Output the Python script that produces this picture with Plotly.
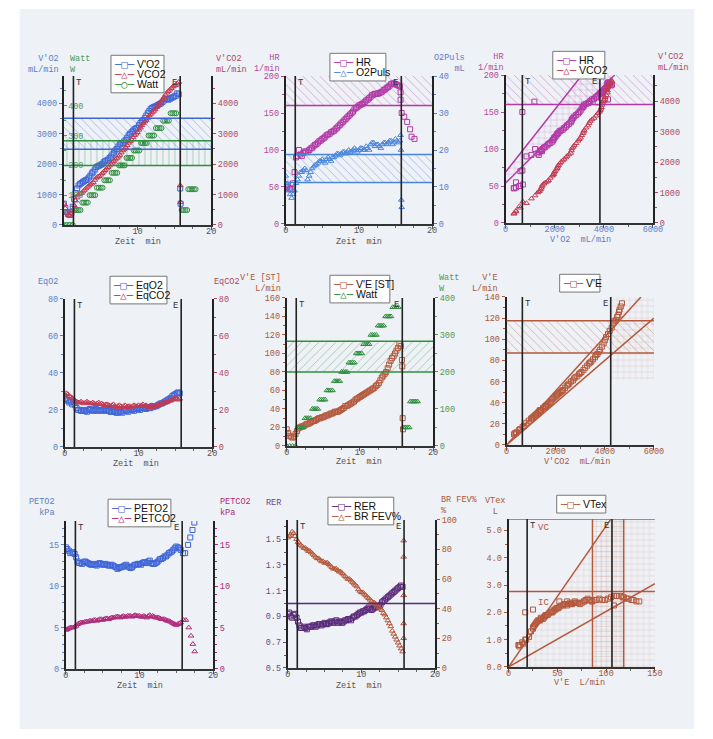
import plotly.graph_objects as go

# ---------------- data ----------------
t = [0.0, 0.4, 0.8, 1.2, 1.6, 2.0, 2.4, 2.8, 3.2, 3.6, 4.0, 4.4, 4.8, 5.2, 5.6, 6.0, 6.4, 6.8, 7.2, 7.6,
     8.0, 8.4, 8.8, 9.2, 9.6, 10.0, 10.4, 10.8, 11.2, 11.6, 12.0, 12.4, 12.8, 13.2, 13.6, 14.0, 14.4, 14.8, 15.2, 15.6]
vo2 = [700, 420, 330, 600, 1050, 1300, 1380, 1450, 1500, 1620, 1750, 1900, 1950, 2000, 2100, 2150, 2250, 2380, 2500, 2650,
       2700, 2800, 2950, 3050, 3150, 3200, 3350, 3450, 3600, 3750, 3850, 3900, 3950, 4000, 4100, 4150, 4150, 4200, 4250, 4300]
vco2 = [700, 400, 300, 500, 800, 1000, 1050, 1150, 1250, 1330, 1400, 1550, 1600, 1700, 1800, 1900, 2000, 2100, 2200, 2300,
        2450, 2550, 2700, 2800, 2950, 3050, 3200, 3350, 3450, 3600, 3700, 3800, 3950, 4050, 4200, 4350, 4450, 4550, 4600, 4700]
hr = [52, 48, 47, 70, 92, 94, 96, 98, 100, 103, 107, 110, 113, 116, 120, 122, 125, 128, 132, 136,
      140, 144, 148, 152, 157, 160, 162, 165, 168, 172, 175, 176, 177, 179, 182, 185, 189, 190, 188, 186]
o2puls = [13, 9, 7, 9, 12, 14, 14.5, 14.5, 13, 15, 16, 16.5, 17, 17, 17.5, 17.5, 18, 18.5, 19, 19,
          19.5, 19.5, 19.5, 20, 20, 20, 20.5, 20, 20.5, 21.5, 22, 21.5, 21, 21.5, 22, 22, 22.5, 22, 22.5, 22.5]
eqo2 = [26, 25, 24.5, 24, 21, 20, 19.5, 19.5, 20, 20, 20, 19.5, 20, 20, 19.5, 19.5, 19, 19, 18.5, 19,
        19.5, 19.5, 20, 20, 20.5, 20.5, 21, 21, 21.5, 21, 21.5, 22, 23, 23.5, 24.5, 25.5, 26.5, 28, 29, 29]
eqco2 = [28, 28.5, 27, 26, 24.5, 24, 24, 24, 24, 23.5, 23.5, 23.5, 23, 23, 23, 22.5, 22.5, 22, 22, 22,
         22, 21.5, 22, 22, 22, 22.5, 22.5, 22, 22, 22, 21.5, 22, 23, 23.5, 24, 24.5, 25, 26, 26, 26]
ve_st = [18, 11, 9, 13, 19, 21, 22, 24, 25, 27, 28, 30, 31, 32, 33, 35, 36, 37, 38, 40,
         43, 44, 46, 48, 51, 53, 55, 57, 59, 61, 63, 66, 71, 76, 80, 88, 95, 100, 106, 108]
ve_btps = [18, 12, 10, 14, 21, 25, 26, 28, 30, 32, 33, 36, 37, 39, 41, 44, 46, 48, 50, 52,
           56, 58, 61, 64, 67, 69, 73, 77, 79, 83, 86, 90, 96, 102, 108, 115, 118, 123, 128, 134]
vtex = [1.0, 0.8, 0.8, 0.9, 1.1, 1.4, 1.5, 1.6, 1.7, 1.7, 1.75, 1.8, 1.85, 1.9, 1.95, 2.0, 2.05, 2.1, 2.15, 2.2,
        2.25, 2.3, 2.3, 2.3, 2.35, 2.35, 2.3, 2.4, 2.45, 2.45, 2.4, 2.45, 2.45, 2.5, 2.6, 2.6, 2.55, 2.5, 2.45, 2.4]
peto2 = [14.7, 14.3, 14.1, 13.9, 13.0, 12.8, 12.9, 12.9, 12.7, 12.6, 12.6, 12.7, 12.7, 12.6, 12.6, 12.5, 12.5, 12.3, 12.2, 12.3,
         12.5, 12.4, 12.2, 12.5, 12.6, 12.7, 12.8, 12.9, 13.0, 12.8, 12.7, 12.9, 13.3, 13.4, 13.6, 14.0, 14.2, 14.6, 14.7, 14.4]
petco2 = [4.7, 4.9, 5.0, 5.1, 5.4, 5.6, 5.6, 5.7, 5.8, 5.8, 5.9, 5.9, 6.0, 6.0, 6.1, 6.1, 6.2, 6.3, 6.3, 6.3,
          6.3, 6.4, 6.4, 6.4, 6.4, 6.4, 6.3, 6.3, 6.4, 6.3, 6.3, 6.2, 6.1, 6.0, 5.9, 5.8, 5.6, 5.4, 5.4, 5.6]
rer = [0.92, 0.90, 0.91, 0.89, 0.83, 0.81, 0.81, 0.82, 0.82, 0.83, 0.83, 0.84, 0.84, 0.84, 0.85, 0.86, 0.86, 0.85, 0.86, 0.86,
       0.87, 0.88, 0.89, 0.90, 0.92, 0.93, 0.94, 0.96, 0.96, 0.96, 0.97, 0.98, 1.01, 1.03, 1.05, 1.07, 1.09, 1.11, 1.13, 1.13]
br_fev = [88, 90, 91, 87, 84, 82, 81, 79, 78, 76, 74, 73, 72, 71, 70, 68, 67, 66, 65, 63,
          61, 60, 58, 56, 53, 51, 50, 48, 46, 44, 43, 41, 39, 36, 32, 28, 23, 19, 15, 11]

# breaths in between (second read of the same curves)
t_m = [0.2, 0.6, 1.0, 1.4, 1.8, 2.2, 2.6, 3.0, 3.4, 3.8, 4.2, 4.6, 5.0, 5.4, 5.8, 6.2, 6.6, 7.0, 7.4, 7.8,
       8.2, 8.6, 9.0, 9.4, 9.8, 10.2, 10.6, 11.0, 11.4, 11.8, 12.2, 12.6, 13.0, 13.4, 13.8, 14.2, 14.6, 15.0, 15.4]
vo2_m = [560, 350, 420, 850, 1200, 1350, 1420, 1480, 1560, 1700, 1820, 1930, 1980, 2060, 2120, 2200, 2320, 2450, 2580, 2680,
         2750, 2870, 3000, 3100, 3180, 3280, 3400, 3520, 3680, 3820, 3880, 3920, 3980, 4050, 4150, 4120, 4180, 4230, 4330]
vco2_m = [550, 330, 380, 650, 900, 1030, 1100, 1200, 1290, 1360, 1480, 1580, 1650, 1750, 1850, 1950, 2050, 2150, 2250, 2380,
          2500, 2620, 2750, 2880, 3000, 3130, 3280, 3400, 3520, 3650, 3750, 3880, 4000, 4130, 4280, 4400, 4500, 4580, 4650]
hr_m = [50, 47, 55, 90, 100, 92, 98, 97, 102, 105, 108, 112, 115, 118, 121, 124, 126, 130, 134, 138,
        142, 146, 150, 155, 158, 161, 163, 167, 170, 174, 176, 176, 178, 181, 184, 187, 190, 189, 187]
o2puls_m = [11, 8, 8, 11, 13, 14, 15, 12, 14, 15.5, 16, 17, 17.5, 16.5, 18, 17, 18, 19, 18.5, 19.5,
            19, 20, 19.5, 20.5, 19.5, 20.5, 20, 21, 20, 22, 21, 21.5, 20.5, 22, 21.5, 22.5, 21.5, 23, 22]
eqo2_m = [25.5, 24, 23, 22.5, 20, 19.5, 20, 19, 20.5, 19.5, 20.5, 20, 19.5, 20.5, 20, 19, 19.5, 18.5, 19, 18.5,
          20, 19, 20.5, 19.5, 21, 20, 21.5, 20.5, 21, 22, 22, 22.5, 23.5, 24, 25, 26, 27.5, 28.5, 29.5]
eqco2_m = [29, 27.5, 26.5, 25, 24, 24.5, 23.5, 24.5, 23.5, 24, 23, 24, 23.5, 22.5, 23, 22, 23, 21.5, 22.5, 21.5,
           22.5, 22, 21.5, 22.5, 22, 22, 23, 22.5, 21.5, 22.5, 22, 22.5, 23, 24, 24, 25, 25.5, 26.5, 25.5]
ve_st_m = [14, 10, 10, 16, 20, 21, 23, 24, 26, 27, 29, 30, 31, 33, 34, 35, 37, 37, 39, 41,
           43, 45, 47, 50, 52, 54, 56, 58, 60, 62, 65, 68, 74, 78, 84, 92, 97, 103, 110]
ve_btps_m = [15, 11, 11, 17, 23, 25, 27, 29, 31, 33, 35, 37, 38, 40, 43, 45, 47, 49, 51, 54,
             57, 60, 63, 65, 68, 71, 75, 78, 81, 85, 88, 93, 99, 105, 111, 117, 121, 126, 131]
vtex_m = [0.85, 0.75, 0.8, 1.0, 1.3, 1.45, 1.55, 1.65, 1.7, 1.8, 1.75, 1.85, 1.9, 1.9, 2.0, 2.0, 2.1, 2.15, 2.15, 2.25,
          2.3, 2.25, 2.35, 2.3, 2.4, 2.35, 2.35, 2.4, 2.5, 2.4, 2.45, 2.5, 2.45, 2.55, 2.6, 2.55, 2.5, 2.45, 2.4]
peto2_m = [14.5, 14.0, 14.1, 13.5, 12.8, 12.7, 13.0, 12.8, 12.6, 12.7, 12.5, 12.8, 12.6, 12.7, 12.5, 12.6, 12.4, 12.1, 12.3, 12.4,
           12.6, 12.3, 12.3, 12.6, 12.7, 12.6, 12.9, 12.8, 13.1, 12.7, 12.8, 13.1, 13.3, 13.6, 13.8, 14.1, 14.4, 14.8, 14.6]
petco2_m = [4.8, 5.0, 5.0, 5.2, 5.5, 5.6, 5.7, 5.7, 5.8, 5.9, 5.8, 6.0, 5.9, 6.1, 6.0, 6.2, 6.2, 6.3, 6.2, 6.4,
            6.3, 6.4, 6.3, 6.5, 6.4, 6.3, 6.4, 6.2, 6.5, 6.4, 6.2, 6.2, 6.0, 6.0, 5.8, 5.7, 5.5, 5.3, 5.5]
rer_m = [0.93, 0.89, 0.92, 0.86, 0.81, 0.82, 0.80, 0.82, 0.83, 0.82, 0.84, 0.83, 0.85, 0.84, 0.86, 0.85, 0.87, 0.86, 0.85, 0.87,
         0.88, 0.87, 0.90, 0.91, 0.93, 0.94, 0.95, 0.97, 0.95, 0.97, 0.98, 0.99, 1.02, 1.04, 1.06, 1.08, 1.10, 1.12, 1.14]
br_fev_m = [89, 92, 89, 85, 83, 81, 80, 79, 77, 75, 74, 72, 71, 71, 69, 67, 67, 65, 64, 62,
            60, 59, 57, 55, 52, 51, 49, 47, 45, 44, 42, 40, 37, 34, 30, 25, 21, 17, 13]
vt_extra_ve = [17, 25, 52, 60, 108]
vt_extra = [2.0, 2.1, 2.4, 2.4, 2.25]

# workload steps
watt_t = [0.0, 0.4, 0.8, 1.2,
          1.5, 1.75, 2.0, 2.25, 2.5, 2.75, 3.0, 3.25, 3.5, 3.75, 4.0, 4.25,
          4.5, 4.75, 5.0, 5.25, 5.5, 5.75, 6.0, 6.25, 6.5, 6.75, 7.0, 7.25,
          7.5, 7.75, 8.0, 8.25, 8.5, 8.75, 9.0, 9.25, 9.5, 9.75, 10.0, 10.25,
          10.5, 10.75, 11.0, 11.25, 11.5, 11.75, 12.0, 12.25, 12.5, 12.75, 13.0, 13.25,
          13.5, 13.75, 14.0, 14.25, 14.5, 14.75, 15.0, 15.25,
          16.0, 16.25, 16.5, 16.75, 16.9, 17.15, 17.4, 17.65, 17.9]
watt = [0, 0, 0, 0,
        50, 50, 50, 50, 75, 75, 75, 75, 100, 100, 100, 100,
        125, 125, 125, 125, 150, 150, 150, 150, 175, 175, 175, 175,
        200, 200, 200, 200, 225, 225, 225, 225, 250, 250, 250, 250,
        275, 275, 275, 275, 300, 300, 300, 300, 325, 325, 325, 325,
        350, 350, 350, 350, 375, 375, 375, 375,
        50, 50, 50, 50, 120, 120, 120, 120, 120]

# recovery samples after end of exercise
rec_t_vo2 = [15.8, 15.85]
rec_vo2 = [1200, 700]
rec_vco2 = [1300, 750]
rec_t_hr = [15.7, 15.7, 15.85, 16.2, 16.6, 17.0, 17.2, 17.6]
rec_hr = [178, 168, 150, 145, 138, 128, 118, 115]
rec_t_o2p = [15.7, 15.75, 15.8, 15.85]
rec_o2p = [24, 20, 6.5, 4.5]
rec_t_ve = [15.75, 15.8, 15.85, 15.9]
rec_ve = [93, 86, 30, 18]
rec_t_peto2 = [15.9, 16.2, 16.6, 16.9, 17.2, 17.45]
rec_peto2 = [14.0, 14.0, 15.0, 15.9, 16.8, 17.7]
rec_t_petco2 = [16.0, 16.3, 16.7, 17.0, 17.25, 17.5]
rec_petco2 = [5.9, 5.9, 5.0, 4.0, 3.0, 2.1]
rec_t_br = [15.75, 15.75, 15.75, 15.75, 15.75]
rec_br = [86, 75, 49, 30, 20]
p3_extra_vo2 = [680, 680, 1170, 3750, 4040, 4170]
p3_extra_hr = [150, 71, 164, 163, 167, 167]

# reference values
t_T, t_E = 1.3, 15.8
vo2_ref = [2490, 3510]
watt_ref = [200, 283]
hr_ref = [160, 200]
o2p_ref = [11.2, 18.8]
hr_vo2_upper = [(0, 69), (3110, 200)]
hr_vo2_lower = [(0, 54), (4440, 200)]
vo2_T, vo2_E = 680, 3840
ve_ref = [87, 117.5]
ve_vco2_upper = [(0, 0), (5470, 140)]
ve_vco2_lower = [(0, 0), (6000, 120)]
vco2_T, vco2_E = 640, 4240
rer_line = 1.0
vc, ic = 5.42, 2.76
ve_vt_ref = [86, 118]
vt_upper = [(0, 0), (105, 5.42)]
vt_lower = [(0, 0), (150, 3.05)]
ve_T, ve_E = 19, 106

# all samples together
T_ALL = t + t_m
VO2 = vo2 + vo2_m
VCO2 = vco2 + vco2_m
HRA = hr + hr_m
O2P_A = o2puls + o2puls_m
EQO2 = eqo2 + eqo2_m
EQCO2 = eqco2 + eqco2_m
VE_ST = ve_st + ve_st_m
VE_B = ve_btps + ve_btps_m
VTEX = vtex + vtex_m
PETO2 = peto2 + peto2_m
PETCO2 = petco2 + petco2_m
RER = rer + rer_m
BRF = br_fev + br_fev_m

# ---------------- styling ----------------
W, H = 713, 739
MONO = "Liberation Mono, DejaVu Sans Mono, monospace"
SANS = "Liberation Sans, Arial, sans-serif"
BLUE, BLUE_T = "#3f66d8", "#5a80c8"
RED, RED_T = "#c23a52", "#b04862"
GREEN, GREEN_T = "#2f8f3f", "#4f9a5c"
MAG, MAG_T = "#b23aa6", "#b4489e"
O2P = "#4a86dc"
BROWN, BROWN_T = "#b4583c", "#a8583c"
PURP, PURP_T = "#5a2a7a", "#6b4a82"
PCO2 = "#b02a7a"
DARK_T = "#555555"

BOX = {1: (62, 73, 212, 224), 2: (288, 73, 437, 223), 3: (512, 72, 662, 222),
       4: (63, 299, 213, 449), 5: (289, 298, 438, 448), 6: (513, 297, 663, 447),
       7: (64, 524, 214, 674), 8: (290, 523, 440, 673), 9: (515, 522, 664, 672)}
PY = {1: 'y', 2: 'y4', 3: 'y6', 4: 'y8', 5: 'y10', 6: 'y12', 7: 'y13', 8: 'y15', 9: 'y17'}
XID = {n: ('x' if n == 1 else f'x{n}') for n in BOX}


def X(v):
    return v / W


def Y(v):
    return 1 - v / H


layout = dict(width=W, height=H, autosize=False, margin=dict(l=0, r=0, t=0, b=0),
              paper_bgcolor="white", plot_bgcolor="rgba(0,0,0,0)", showlegend=False)
shapes, annots = [], []


def add_x(n, rng, tickvals, minor, tcolor):
    b = BOX[n]
    key = 'xaxis' if n == 1 else f'xaxis{n}'
    layout[key] = dict(domain=[X(b[0]), X(b[2])], range=rng, anchor=PY[n], tickmode='array',
                       tickvals=tickvals, ticks='outside', ticklen=3, tickcolor='#555',
                       ticklabelstandoff=-6,
                       showline=True, linecolor='#333', linewidth=1.5, showgrid=False, zeroline=False,
                       tickfont=dict(family=MONO, size=8.5, color=tcolor),
                       minor=dict(ticks='outside', ticklen=2, tickmode='linear', tick0=rng[0], dtick=minor,
                                  tickcolor='#666', showgrid=False),
                       fixedrange=True)


def add_y(yid, n, rng, tickvals, minor, tcolor, side='left', overlay=None, ticktext=None,
          inside=False, showline=True):
    b = BOX[n]
    key = 'yaxis' + ('' if yid == 'y' else yid[1:])
    d = dict(domain=[Y(b[3]), Y(b[1])], range=rng, anchor=XID[n], side=side, tickmode='array',
             tickvals=tickvals, ticks='inside' if inside else 'outside', ticklen=3, tickcolor=tcolor,
             showline=showline, linecolor='#222', linewidth=2, showgrid=False, zeroline=False,
             tickfont=dict(family=MONO, size=8.5, color=tcolor), fixedrange=True,
             minor=dict(ticks='inside' if inside else 'outside', ticklen=2, tickmode='linear',
                        tick0=rng[0], dtick=minor, tickcolor=tcolor, showgrid=False))
    if ticktext is not None:
        d['ticktext'] = ticktext
    if inside:
        d['ticklabelposition'] = 'inside'
    if overlay:
        d['overlaying'] = overlay
    layout[key] = d


fig = go.Figure()


def band(n, yid, lo, hi, x0, x1, color, shape, size=6):
    fig.add_trace(go.Scatter(x=[x0, x1, x1, x0, x0], y=[lo, lo, hi, hi, lo], mode='lines',
                             line=dict(width=0), fill='toself', fillcolor='rgba(0,0,0,0)',
                             fillpattern=dict(shape=shape, fgcolor=color, bgcolor='rgba(0,0,0,0)',
                                              size=size, solidity=0.12),
                             xaxis=XID[n], yaxis=yid, hoverinfo='skip', showlegend=False))


def poly(n, yid, xs, ys, color, shape, size=6, sol=0.1):
    fig.add_trace(go.Scatter(x=xs, y=ys, mode='lines', line=dict(width=0), fill='toself',
                             fillcolor='rgba(0,0,0,0)',
                             fillpattern=dict(shape=shape, fgcolor=color, bgcolor='rgba(0,0,0,0)',
                                              size=size, solidity=sol),
                             xaxis=XID[n], yaxis=yid, hoverinfo='skip', showlegend=False))


def hline(n, yid, val, color, w=1.5):
    shapes.append(dict(type='line', xref=f'{XID[n]} domain', x0=0, x1=1, yref=yid, y0=val, y1=val,
                       line=dict(color=color, width=w), layer='above'))


def vline(n, val, color='#222', w=1.6):
    shapes.append(dict(type='line', xref=XID[n], x0=val, x1=val, yref=f'{PY[n]} domain', y0=0, y1=1,
                       line=dict(color=color, width=w), layer='above'))


def seg(n, yid, p0, p1, color, w=1.5):
    shapes.append(dict(type='line', xref=XID[n], yref=yid, x0=p0[0], y0=p0[1], x1=p1[0], y1=p1[1],
                       line=dict(color=color, width=w), layer='above'))


def te(n, xT, xE):
    vline(n, xT)
    vline(n, xE)
    annots.append(dict(xref=XID[n], yref=f'{PY[n]} domain', x=xT, y=1, text='T', showarrow=False,
                       xanchor='left', yanchor='top', xshift=1, font=dict(family=MONO, size=9, color='#333')))
    annots.append(dict(xref=XID[n], yref=f'{PY[n]} domain', x=xE, y=1, text='E', showarrow=False,
                       xanchor='right', yanchor='top', xshift=-1, font=dict(family=MONO, size=9, color='#333')))


def pts(n, yid, xs, ys, color, symbol, size=5):
    fig.add_trace(go.Scatter(x=xs, y=ys, mode='markers', xaxis=XID[n], yaxis=yid,
                             marker=dict(symbol=symbol, size=size, color=color, line=dict(width=1, color=color)),
                             hoverinfo='skip', showlegend=False))


def title(text, x, y, color, xanchor='right', align='right', yanchor='top'):
    annots.append(dict(xref='paper', yref='paper', x=X(x), y=Y(y), text=text, showarrow=False,
                       xanchor=xanchor, yanchor=yanchor, align=align, borderpad=0,
                       font=dict(family=MONO, size=8.5, color=color)))


# ---------------- axes ----------------
for n in (1, 2, 4, 5, 7, 8):
    add_x(n, [0, 20], [0, 10, 20], 2.5, DARK_T)
add_x(3, [0, 6000], [0, 2000, 4000, 6000], 1000, BLUE_T)
add_x(6, [0, 6000], [0, 2000, 4000, 6000], 1000, BROWN_T)
add_x(9, [0, 150], [0, 50, 100, 150], 25, BROWN_T)

add_y('y', 1, [0, 4900], [0, 1000, 2000, 3000, 4000], 500, BLUE_T)
add_y('y2', 1, [0, 500], [100, 200, 300, 400, 500], 50, GREEN_T, overlay='y', inside=True, showline=False)
add_y('y3', 1, [0, 4900], [0, 1000, 2000, 3000, 4000], 500, RED_T, side='right', overlay='y')
add_y('y4', 2, [0, 200], [0, 50, 100, 150, 200], 25, MAG_T)
add_y('y5', 2, [0, 40], [0, 10, 20, 30, 40], 5, BLUE_T, side='right', overlay='y4')
add_y('y6', 3, [0, 200], [0, 50, 100, 150, 200], 25, MAG_T)
add_y('y7', 3, [0, 4860], [0, 1000, 2000, 3000, 4000], 500, RED_T, side='right', overlay='y6')
add_y('y8', 4, [0, 80], [0, 20, 40, 60, 80], 10, BLUE_T)
add_y('y9', 4, [0, 80], [0, 20, 40, 60, 80], 10, RED_T, side='right', overlay='y8')
add_y('y10', 5, [0, 160], [0, 20, 40, 60, 80, 100, 120, 140, 160], 10, BROWN_T)
add_y('y11', 5, [0, 400], [0, 100, 200, 300, 400], 50, GREEN_T, side='right', overlay='y10')
add_y('y12', 6, [0, 140], [0, 20, 40, 60, 80, 100, 120, 140], 10, BROWN_T)
add_y('y13', 7, [0, 17.9], [0, 5, 10, 15], 1, BLUE_T)
add_y('y14', 7, [0, 17.9], [0, 5, 10, 15], 1, PCO2, side='right', overlay='y13')
add_y('y15', 8, [0.5, 1.65], [0.5, 0.7, 0.9, 1.1, 1.3, 1.5], 0.1, PURP_T,
      ticktext=['0.5', '0.7', '0.9', '1.1', '1.3', '1.5'])
add_y('y16', 8, [0, 100], [0, 20, 40, 60, 80, 100], 10, BROWN_T, side='right', overlay='y15')
add_y('y17', 9, [0, 5.42], [0, 1, 2, 3, 4, 5], 0.5, BROWN_T,
      ticktext=['0.0', '1.0', '2.0', '3.0', '4.0', '5.0'])

# ---------------- reference areas ----------------
band(1, 'y', vo2_ref[0], vo2_ref[1], 0, 20, BLUE, '\\')
band(1, 'y2', watt_ref[0], watt_ref[1], 0, 20, GREEN, '|')
band(2, 'y4', hr_ref[0], hr_ref[1], 0, 20, MAG, '\\')
band(2, 'y5', o2p_ref[0], o2p_ref[1], 0, 20, BLUE, '\\')
band(3, 'y6', hr_ref[0], hr_ref[1], 0, 6000, MAG, '\\')
poly(3, 'y6', [hr_vo2_upper[0][0], hr_vo2_upper[1][0], hr_vo2_lower[1][0], hr_vo2_lower[0][0]],
     [hr_vo2_upper[0][1], hr_vo2_upper[1][1], hr_vo2_lower[1][1], hr_vo2_lower[0][1]], MAG, '+', 6, 0.12)
band(5, 'y11', watt_ref[0], watt_ref[1], 0, 20, GREEN, '/')
band(6, 'y12', ve_ref[0], ve_ref[1], 0, 6000, BROWN, '\\')
poly(6, 'y12', [vco2_E, 6000, 6000, vco2_E], [62, 62, 140, 140], BROWN, '+', 6, 0.08)
poly(9, 'y17', [vt_upper[0][0], vt_upper[1][0], 150, 150], [vt_upper[0][1], vt_upper[1][1], vc, 0],
     BROWN, '+', 6, 0.08)
band(9, 'y17', 0, vc, ve_vt_ref[0], ve_vt_ref[1], BROWN, '+', 5)

for v in vo2_ref:
    hline(1, 'y', v, BLUE)
for v in watt_ref:
    hline(1, 'y2', v, GREEN)
hline(2, 'y4', hr_ref[0], MAG)
for v in o2p_ref:
    hline(2, 'y5', v, O2P)
hline(3, 'y6', hr_ref[0], MAG)
seg(3, 'y6', hr_vo2_upper[0], hr_vo2_upper[1], MAG)
seg(3, 'y6', hr_vo2_lower[0], hr_vo2_lower[1], MAG)
for v in watt_ref:
    hline(5, 'y11', v, GREEN)
for v in ve_ref:
    hline(6, 'y12', v, BROWN)
seg(6, 'y12', ve_vco2_upper[0], ve_vco2_upper[1], BROWN)
seg(6, 'y12', ve_vco2_lower[0], ve_vco2_lower[1], BROWN)
hline(8, 'y15', rer_line, PURP)
hline(9, 'y17', vc, BROWN)
hline(9, 'y17', ic, BROWN)
for v in ve_vt_ref:
    shapes.append(dict(type='line', xref='x9', x0=v, x1=v, yref='y17 domain', y0=0, y1=1,
                       line=dict(color=BROWN, width=1.5), layer='above'))
seg(9, 'y17', vt_upper[0], vt_upper[1], BROWN)
seg(9, 'y17', vt_lower[0], vt_lower[1], BROWN)

for n in (1, 2, 4, 5, 7, 8):
    te(n, t_T, t_E)
te(3, vo2_T, vo2_E)
te(6, vco2_T, vco2_E)
te(9, ve_T, ve_E)
annots.append(dict(xref='x9', yref='y17', x=ve_T, y=vc, text='VC', showarrow=False, xanchor='left',
                   yanchor='top', xshift=9, yshift=-2, font=dict(family=MONO, size=9, color=BROWN)))
annots.append(dict(xref='x9', yref='y17', x=ve_T, y=ic, text='IC', showarrow=False, xanchor='left',
                   yanchor='top', xshift=9, yshift=-4, font=dict(family=MONO, size=9, color=BROWN)))

# ---------------- data markers ----------------
pts(1, 'y2', watt_t, watt, GREEN, 'circle-open')
pts(1, 'y3', T_ALL, VCO2, RED, 'triangle-up-open')
pts(1, 'y3', rec_t_vo2, rec_vco2, RED, 'triangle-up-open')
pts(1, 'y', T_ALL, VO2, BLUE, 'square-open')
pts(1, 'y', rec_t_vo2, rec_vo2, BLUE, 'square-open')

pts(2, 'y5', T_ALL, O2P_A, O2P, 'triangle-up-open')
pts(2, 'y5', rec_t_o2p, rec_o2p, O2P, 'triangle-up-open')
pts(2, 'y4', T_ALL, HRA, MAG, 'square-open')
pts(2, 'y4', rec_t_hr, rec_hr, MAG, 'square-open')

pts(3, 'y7', VO2, VCO2, RED, 'triangle-up-open')
pts(3, 'y6', VO2, HRA, MAG, 'square-open')
pts(3, 'y6', p3_extra_vo2, p3_extra_hr, MAG, 'square-open')

pts(4, 'y9', T_ALL, EQCO2, RED, 'triangle-up-open')
pts(4, 'y8', T_ALL, EQO2, BLUE, 'square-open')

pts(5, 'y11', watt_t, watt, GREEN, 'triangle-up-open')
pts(5, 'y10', T_ALL, VE_ST, BROWN, 'square-open')
pts(5, 'y10', rec_t_ve, rec_ve, BROWN, 'square-open')

pts(6, 'y12', VCO2, VE_B, BROWN, 'square-open')

pts(7, 'y13', T_ALL, PETO2, BLUE, 'square-open')
pts(7, 'y13', rec_t_peto2, rec_peto2, BLUE, 'square-open')
pts(7, 'y14', T_ALL, PETCO2, PCO2, 'triangle-up-open')
pts(7, 'y14', rec_t_petco2, rec_petco2, PCO2, 'triangle-up-open')

pts(8, 'y16', T_ALL, BRF, BROWN, 'triangle-up-open')
pts(8, 'y16', rec_t_br, rec_br, BROWN, 'triangle-up-open')
pts(8, 'y15', T_ALL, RER, PURP, 'square-open')

pts(9, 'y17', VE_B, VTEX, BROWN, 'square-open')
pts(9, 'y17', vt_extra_ve, vt_extra, BROWN, 'square-open')

# ---------------- legends (boxed keys) ----------------
SQ, TR, CI = '\u25a1', '\u25b3', '\u25cb'
LEGENDS = [
    ((110, 52, 54), [("V'O2", BLUE, SQ), ("VCO2", RED, TR), ("Watt", GREEN, CI)]),
    ((333, 50, 57), [("HR", MAG, SQ), ("O2Puls", O2P, TR)]),
    ((560, 48, 53), [("HR", MAG, SQ), ("VCO2", RED, TR)]),
    ((109, 276, 58), [("EqO2", BLUE, SQ), ("EqCO2", RED, TR)]),
    ((333, 275, 61), [("V'E [ST]", BROWN, SQ), ("Watt", GREEN, TR)]),
    ((567, 274, 41), [("V'E", BROWN, SQ)]),
    ((107, 502, 64), [("PETO2", BLUE, SQ), ("PETCO2", PCO2, TR)]),
    ((331, 500, 67), [("RER", PURP, SQ), ("BR FEV%", BROWN, TR)]),
    ((564, 498, 50), [("VTex", BROWN, SQ)]),
]
for (lx, ly, lw), entries in LEGENDS:
    lh = 8 + 10 * len(entries)
    shapes.append(dict(type='rect', xref='paper', yref='paper', x0=X(lx), x1=X(lx + lw), y0=Y(ly + lh),
                       y1=Y(ly), fillcolor='white', line=dict(color='#777', width=1), layer='above'))
    for i, (name, col, glyph) in enumerate(entries):
        txt = (f"<span style='font-family:DejaVu Sans Mono;color:{col}'>\u2500{glyph}\u2500</span>"
               f" {name}")
        annots.append(dict(xref='paper', yref='paper', x=X(lx + 2), y=Y(ly + 9 + 10 * i), text=txt,
                           showarrow=False, xanchor='left', yanchor='middle', borderpad=0,
                           font=dict(family=SANS, size=10.5, color='#111')))

# ---------------- axis titles ----------------
title("V'O2<br>mL/min", 58, 50, BLUE_T)
title("Watt<br>W", 67, 50, GREEN_T, 'left', 'left')
title("V'CO2<br>mL/min", 216, 50, RED_T, 'left', 'left')
title("Zeit  min", 137, 241, DARK_T, 'center', 'center', 'middle')
title("HR<br>1/min", 283, 49, MAG_T)
title("O2Puls<br>mL", 472, 49, BLUE_T)
title("Zeit  min", 363, 241, DARK_T, 'center', 'center', 'middle')
title("HR<br>1/min", 511, 48, MAG_T)
title("V'CO2<br>mL/min", 666, 48, RED_T, 'left', 'left')
title("V'O2  mL/min", 588, 239, BLUE_T, 'center', 'center', 'middle')
title("EqO2", 57, 276, BLUE_T)
title("EqCO2", 214, 276, RED_T, 'left', 'left')
title("V'E [ST]<br>L/min", 284, 272, BROWN_T)
title("Watt<br>W", 443, 272, GREEN_T, 'left', 'left')
title("Zeit  min", 135, 466, DARK_T, 'center', 'center', 'middle')
title("Zeit  min", 363, 464, DARK_T, 'center', 'center', 'middle')
title("V'E<br>L/min", 505, 272, BROWN_T)
title("V'CO2  mL/min", 585, 464, BROWN_T, 'center', 'center', 'middle')
title("PETO2<br>kPa", 54, 499, BLUE_T)
title("PETCO2<br>kPa", 220, 499, PCO2, 'left', 'left')
title("Zeit  min", 140, 691, DARK_T, 'center', 'center', 'middle')
title("RER", 284, 500, PURP_T)
title("BR FEV%<br>%", 445, 497, BROWN_T, 'left', 'left')
title("Zeit  min", 363, 691, DARK_T, 'center', 'center', 'middle')
title("VTex<br>L", 501, 498, BROWN_T, 'center', 'center')
title("V'E  L/min", 587, 688, BROWN_T, 'center', 'center', 'middle')

# page background (scanned sheet)
shapes.insert(0, dict(type='rect', xref='paper', yref='paper', x0=X(17), x1=X(704), y0=Y(735), y1=Y(5),
                      fillcolor='#eef1f6', line=dict(width=0), layer='below'))

layout['shapes'] = shapes
layout['annotations'] = annots
fig.update_layout(**layout)
fig.write_html("out.html", config={'displayModeBar': False},
               post_script="document.body.style.margin='0px';document.body.style.overflow='hidden';")
